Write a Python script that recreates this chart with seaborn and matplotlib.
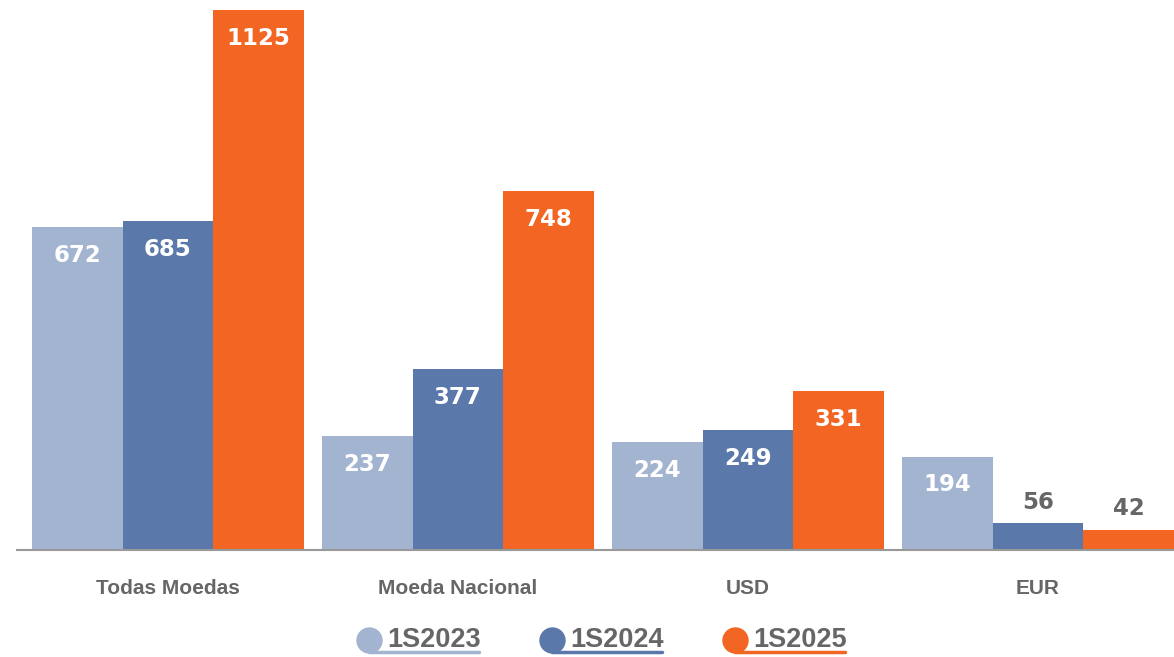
import matplotlib
matplotlib.use("Agg")
import matplotlib.pyplot as plt
from matplotlib.lines import Line2D
import seaborn as sns
import pandas as pd

categories = ["Todas Moedas", "Moeda Nacional", "USD", "EUR"]
series = ["1S2023", "1S2024", "1S2025"]
v2023 = [672, 237, 224, 194]
v2024 = [685, 377, 249, 56]
v2025 = [1125, 748, 331, 42]
colors = ["#A3B4D1", "#5A78AA", "#F26522"]

rows = []
for s, vals in zip(series, [v2023, v2024, v2025]):
    for c, v in zip(categories, vals):
        rows.append({"cat": c, "serie": s, "val": v})
df = pd.DataFrame(rows)

sns.set_theme(style="white")
plt.rcParams["font.family"] = ["Liberation Sans", "DejaVu Sans"]

W, H = 1174, 657
fig = plt.figure(figsize=(W / 100, H / 100), dpi=100)
ax = fig.add_axes([17 / W, (H - 550) / H, (W - 17) / W, 550 / H])

sns.barplot(data=df, x="cat", y="val", hue="serie", order=categories,
            hue_order=series, palette=colors, width=0.9375, saturation=1,
            legend=False, ax=ax, linewidth=0)

ax.set_xlim(-0.52, 3.469)
ax.set_ylim(0, 1146)
for sp in ["top", "right", "left"]:
    ax.spines[sp].set_visible(False)
ax.spines["bottom"].set_color("#999999")
ax.spines["bottom"].set_linewidth(1.5)
ax.set_yticks([])
ax.set_xlabel("")
ax.set_ylabel("")
ax.tick_params(axis="x", length=0, pad=21)
for lbl in ax.get_xticklabels():
    lbl.set_fontsize(15)
    lbl.set_fontweight("bold")
    lbl.set_color("#666666")

for cont in ax.containers:
    for bar in cont:
        h = bar.get_height()
        xc = bar.get_x() + bar.get_width() / 2
        if h > 150:
            ax.annotate(f"{int(round(h))}", (xc, h), xytext=(0, -28),
                        textcoords="offset pixels", ha="center", va="center",
                        fontsize=16.5, fontweight="bold", color="white",
                        family="DejaVu Sans")
        else:
            ax.annotate(f"{int(round(h))}", (xc, h), xytext=(0, 21),
                        textcoords="offset pixels", ha="center", va="center",
                        fontsize=16.5, fontweight="bold", color="#666666",
                        family="DejaVu Sans")

# Legend
leg_x = [369, 552, 735]
for x, s, c in zip(leg_x, series, colors):
    fig.add_artist(Line2D([x / W, (x + 110) / W], [(H - 652) / H, (H - 652) / H],
                          color=c, lw=2.5, transform=fig.transFigure))
    fig.add_artist(Line2D([x / W], [(H - 640) / H], marker="o", markersize=19,
                          color=c, markeredgewidth=0, transform=fig.transFigure))
    fig.text((x + 18) / W, (H - 640) / H, s, ha="left", va="center",
             fontsize=19.5, fontweight="bold", color="#666666")

fig.savefig("out.png", dpi=100)
